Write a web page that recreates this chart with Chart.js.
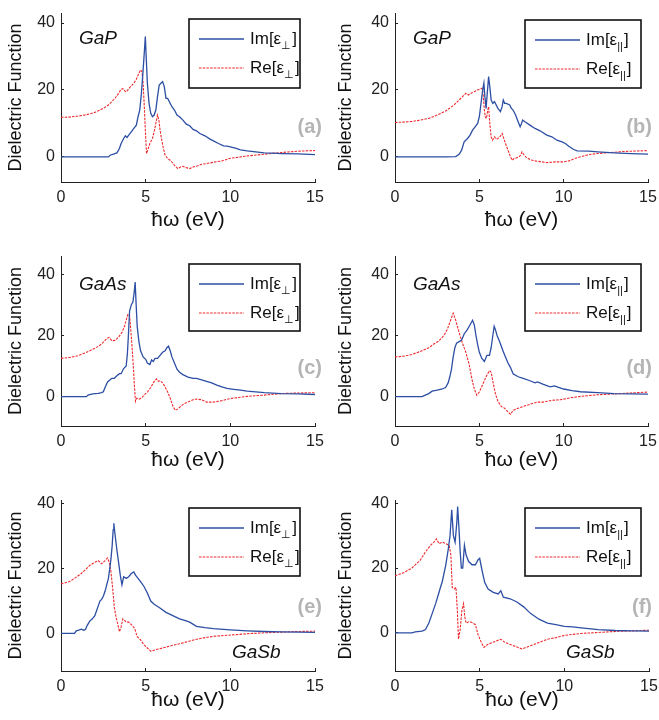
<!DOCTYPE html>
<html>
<head>
<meta charset="utf-8">
<script src="https://cdn.jsdelivr.net/npm/chart.js@4"></script>
<style>
body { margin: 0; background: #fff; }
#wrap { position: relative; width: 659px; height: 720px; }
#wrap canvas { position: absolute; }
</style>
</head>
<body>
<div id="wrap"></div>
<script>
// Axis ticks and ranges
const xTicks = [0, 5, 10, 15];
const yTicks = [0, 20, 40];
const yMin = [-7.5, -7.5, -9.6, -9.6, -11.6, -11.8];
const yMax = [43, 43, 46, 46, 41.2, 41];

const panelLetters = ['(a)', '(b)', '(c)', '(d)', '(e)', '(f)'];
const materials = ['GaP', 'GaP', 'GaAs', 'GaAs', 'GaSb', 'GaSb'];
const components = ['⊥', '||', '⊥', '||', '⊥', '||'];

// Series, [energy (eV), value]
const gapImPerp = [[0,0],[1,0],[2,0],[2.8,0],[2.9,0.5],[3.1,0.8],[3.3,1.2],[3.45,2.5],[3.55,4],[3.7,5.5],[3.8,6.3],[3.9,5.8],[4.0,6.5],[4.15,7.5],[4.3,8.5],[4.45,9.5],[4.55,12],[4.65,14],[4.75,19],[4.85,26],[4.93,32],[4.98,36],[5.03,30],[5.1,22],[5.2,16],[5.3,13],[5.4,12],[5.5,12.5],[5.6,14],[5.7,18],[5.8,21.5],[5.9,22],[6.0,22.5],[6.1,21],[6.2,17.5],[6.3,17.5],[6.4,16.5],[6.55,15],[6.7,14],[6.85,12.5],[7.0,12],[7.2,11],[7.4,9.8],[7.6,9.3],[7.8,8.2],[8.0,7.8],[8.2,7],[8.5,6.3],[8.8,5.3],[9.0,4.8],[9.3,4],[9.6,3.3],[9.8,3.2],[10.0,3],[10.3,2.6],[10.6,2.1],[11.0,1.8],[11.5,1.5],[12,1.2],[12.5,1.1],[13,1.0],[14,0.9],[15,0.7]];
const gapRePerp = [[0,11.8],[0.5,11.9],[1,12.2],[1.5,12.6],[2,13.3],[2.5,14.5],[2.8,15.5],[3.0,16.5],[3.2,17.6],[3.4,19],[3.55,20.2],[3.65,20.4],[3.75,19.8],[3.85,19.4],[3.95,20],[4.1,21],[4.3,22],[4.45,23.2],[4.6,25],[4.7,26],[4.78,25.5],[4.85,22],[4.92,15],[4.98,8],[5.05,1],[5.12,2],[5.25,4],[5.4,5.5],[5.5,7.5],[5.6,10],[5.7,12.5],[5.78,11],[5.85,8],[5.95,5],[6.05,2.5],[6.15,0.5],[6.3,-0.5],[6.5,-1.2],[6.7,-2.5],[6.9,-3.5],[7.05,-3],[7.2,-2.8],[7.4,-3.2],[7.6,-3.5],[7.8,-3],[8.0,-2.8],[8.3,-2.2],[8.6,-2],[9.0,-1.6],[9.5,-1.2],[10,-0.4],[10.5,-0.1],[11,0.3],[12,0.8],[13,1.3],[14,1.7],[15,1.9]];
const gapImPar = [[0,0],[1,0],[2,0],[3,0],[3.6,0.1],[3.8,0.8],[3.95,2],[4.1,4.5],[4.3,5.5],[4.45,6.5],[4.6,8],[4.75,9],[4.9,10],[5.0,12],[5.1,16],[5.2,20],[5.27,22],[5.33,18],[5.4,14.5],[5.47,19],[5.55,24],[5.62,21],[5.7,17],[5.8,16],[5.9,16.5],[6.0,15.5],[6.1,14.5],[6.25,13.5],[6.35,15],[6.42,17],[6.5,16],[6.6,16],[6.8,15.5],[6.9,14.5],[7.0,14],[7.15,12.5],[7.3,10.5],[7.42,9],[7.5,10],[7.57,11],[7.7,10.5],[8.0,9.5],[8.3,8.5],[8.6,7.8],[9.0,6.5],[9.3,6],[9.6,5],[9.9,4.5],[10.1,4.0],[10.3,3.2],[10.6,2.2],[10.8,1.8],[11.5,1.7],[12,1.5],[13,1.2],[14,1.0],[15,0.8]];
const gapRePar = [[0,10.3],[0.5,10.4],[1,10.6],[1.5,11],[2,11.5],[2.5,12.5],[3,13.7],[3.5,15.5],[3.8,17],[4.0,18],[4.2,19],[4.35,18.5],[4.5,19],[4.7,19.5],[4.9,20],[5.05,20.3],[5.15,20.5],[5.22,19],[5.3,14],[5.35,12],[5.42,11.5],[5.5,14],[5.55,15],[5.62,10],[5.7,6],[5.78,5],[5.9,6],[6.0,5.3],[6.1,5.5],[6.25,6.2],[6.35,7],[6.45,5.5],[6.55,4],[6.7,2],[6.85,0],[6.95,-1],[7.05,-0.5],[7.2,-0.3],[7.35,0],[7.45,0.5],[7.53,1.5],[7.62,0.8],[7.75,0],[8.0,-0.8],[8.3,-1.2],[8.6,-1.4],[9.0,-1.7],[9.5,-1.5],[10,-1.5],[10.3,-1.2],[10.6,-0.6],[10.9,-0.1],[11.5,0.7],[12,1],[12.5,1.2],[13.5,1.6],[15,1.9]];
const gaasImPerp = [[0,0],[1,0],[1.5,0],[1.6,0.5],[1.8,0.8],[2.0,1.0],[2.2,1.1],[2.4,1.3],[2.5,1.6],[2.6,3],[2.75,4.8],[2.9,5.5],[3.0,6],[3.15,6],[3.3,6.8],[3.45,7.5],[3.55,7.5],[3.7,9.2],[3.85,10],[3.92,14],[3.98,20],[4.05,28],[4.15,30],[4.25,31],[4.32,34],[4.38,37.5],[4.43,31],[4.5,23],[4.6,18],[4.7,15],[4.85,13],[5.0,12.2],[5.1,11],[5.25,10.5],[5.35,12],[5.45,11.5],[5.55,12.5],[5.7,12.5],[5.85,13.5],[6.0,14.5],[6.15,15],[6.25,16],[6.35,16.5],[6.45,15],[6.55,13],[6.7,11],[6.85,9],[7.0,8],[7.2,7.2],[7.5,6.4],[7.8,6],[8.0,6],[8.3,5.5],[8.6,5],[8.9,4.5],[9.2,3.8],[9.5,3.2],[9.8,2.7],[10.2,2.4],[10.6,2.1],[11,1.8],[12,1.3],[13,1.0],[14,0.9],[15,0.7]];
const gaasRePerp = [[0,12.5],[0.5,12.8],[1,13.4],[1.5,14.5],[2,15.8],[2.3,16.8],[2.5,17.8],[2.7,19],[2.85,19.4],[3.0,18.3],[3.2,18.4],[3.4,19.5],[3.6,21],[3.75,23],[3.85,25],[3.95,27],[4.05,26.5],[4.12,22],[4.2,16],[4.27,10],[4.33,4],[4.4,-1.5],[4.47,-0.5],[4.6,-0.8],[4.75,-0.5],[4.9,0.5],[5.1,1.5],[5.3,3],[5.45,4.5],[5.55,5.3],[5.65,5.8],[5.75,5],[5.85,5.2],[6.0,4.5],[6.15,3.2],[6.3,1.5],[6.45,-0.5],[6.6,-3],[6.75,-4.5],[6.9,-4],[7.1,-3],[7.3,-2.2],[7.6,-1.5],[7.85,-0.9],[8.0,-0.8],[8.3,-1],[8.6,-1.8],[9.0,-1.8],[9.5,-1.3],[10,-0.6],[11,0.1],[12,0.5],[13,1.0],[14,1.2],[15,1.3]];
const gaasImPar = [[0,0],[1,0],[1.6,0],[1.8,0.5],[2.0,1.0],[2.2,1.8],[2.5,2.1],[2.8,2.5],[3.0,3],[3.15,4.5],[3.25,6.5],[3.35,9],[3.45,13],[3.55,16],[3.65,17.5],[3.8,18],[3.95,18.5],[4.1,20.5],[4.3,22],[4.45,23.5],[4.6,25],[4.7,23.5],[4.8,20],[4.9,17],[5.0,14.5],[5.15,12.5],[5.3,11.5],[5.45,13.5],[5.6,13.5],[5.7,16],[5.8,20],[5.88,23],[5.95,22],[6.05,20],[6.2,18],[6.4,15],[6.55,13],[6.7,11],[6.85,9.5],[7.0,7.5],[7.3,6.5],[7.6,6],[8.0,5.2],[8.3,4.5],[8.45,4.8],[8.8,4],[9.2,3.2],[9.45,3.5],[9.7,3],[10,2.5],[10.5,2.0],[11,1.6],[12,1.3],[13,1.0],[14,0.9],[15,0.8]];
const gaasRePar = [[0,13],[0.5,13.2],[1,13.8],[1.5,14.8],[2.0,16],[2.3,17.2],[2.6,18.2],[2.9,20],[3.1,22],[3.3,25],[3.45,27.3],[3.6,25],[3.8,21],[4.0,17.5],[4.2,14.5],[4.4,10.5],[4.55,6],[4.7,2.5],[4.85,0.5],[5.0,1.5],[5.2,4],[5.4,6.5],[5.6,8.5],[5.7,8],[5.8,5],[5.95,1],[6.1,-1.5],[6.3,-3.2],[6.5,-3.8],[6.7,-5],[6.85,-5.8],[7.0,-4.5],[7.3,-3.8],[7.6,-3.2],[8.0,-2.5],[8.4,-1.8],[8.8,-1.8],[9.3,-1.2],[9.8,-1.0],[10.5,-0.3],[11,0.1],[12,0.6],[13,0.9],[14,1.2],[15,1.5]];
const gasbImPerp = [[0,0],[0.8,0],[0.9,0.8],[1.05,1],[1.2,1.3],[1.35,1],[1.45,1.3],[1.55,2.5],[1.7,3.8],[1.85,4.5],[2.0,5.5],[2.1,7],[2.2,8.5],[2.3,10],[2.4,10.5],[2.5,11.5],[2.6,13],[2.7,15],[2.8,17],[2.88,20],[2.95,23],[3.02,27],[3.08,32],[3.12,34],[3.18,31],[3.25,28],[3.32,25],[3.4,22],[3.5,18],[3.6,15],[3.7,17.5],[3.85,17],[4.0,17.5],[4.15,18.5],[4.3,19],[4.4,18],[4.55,17],[4.7,16],[4.9,14.5],[5.1,12.5],[5.3,10],[5.5,9],[5.8,8],[6.2,6.5],[6.6,5.5],[7.0,4.5],[7.3,4],[7.6,3.5],[8.0,2.2],[8.5,1.8],[9,1.5],[10,1.1],[11,0.8],[12,0.6],[13,0.5],[15,0.3]];
const gasbRePerp = [[0,15.3],[0.5,16],[0.8,17],[1.2,18.5],[1.5,20],[1.7,21],[2.0,22],[2.2,22.5],[2.4,21.5],[2.6,22.5],[2.75,23.3],[2.85,22],[2.95,19],[3.05,14],[3.15,8],[3.25,5],[3.35,3],[3.45,0.5],[3.55,2],[3.65,4.5],[3.75,4],[3.85,3.5],[4.0,3.5],[4.2,2.5],[4.35,1.5],[4.5,-1],[4.7,-2],[4.9,-3.5],[5.1,-4.5],[5.3,-5.5],[5.6,-5],[6,-4.5],[6.5,-3.8],[7,-3.2],[7.5,-2.5],[8,-1.8],[8.5,-1.3],[9,-0.9],[10,-0.5],[11,-0.1],[12,0.2],[13,0.4],[14,0.6],[15,0.7]];
const gasbImPar = [[0,0],[1.0,0],[1.2,0.3],[1.6,0.5],[1.8,1],[2.0,3],[2.2,6],[2.4,9],[2.6,12.5],[2.8,16],[3.0,21],[3.15,26],[3.25,30],[3.35,38],[3.45,30],[3.55,28],[3.65,34],[3.7,39],[3.78,32],[3.85,25],[3.92,20],[4.0,20],[4.1,27],[4.2,24],[4.35,22],[4.55,21],[4.75,21],[4.9,22.5],[5.0,23],[5.15,19],[5.3,15.5],[5.5,13.5],[5.8,12.5],[6.1,12],[6.25,13],[6.4,11],[6.8,10.5],[7.2,9.5],[7.6,8],[8,6],[8.5,4.2],[9,3],[9.5,2.5],[10,2],[10.5,1.8],[11,1.5],[12,1.0],[13,0.7],[14,0.6],[15,0.5]];
const gasbRePar = [[0,17.6],[0.5,18.5],[1,20],[1.5,22.5],[1.8,25],[2.1,27],[2.3,28],[2.45,29],[2.6,27.5],[2.8,28],[3.0,27.5],[3.2,27],[3.3,24],[3.38,14],[3.5,13.5],[3.6,14],[3.68,7],[3.75,-2],[3.85,1],[3.95,7],[4.05,9],[4.12,5],[4.2,3],[4.4,3.5],[4.6,3],[4.75,2.5],[4.9,-0.5],[5.1,-3],[5.25,-4.5],[5.5,-3.5],[6.0,-2.5],[6.25,-2],[6.5,-3],[7.0,-4],[7.5,-5],[8,-4],[8.5,-3],[9,-2],[9.5,-1.5],[10,-0.8],[11,-0.2],[12,0.1],[13,0.4],[14,0.6],[15,0.8]];

const imSeries = [gapImPerp, gapImPar, gaasImPerp, gaasImPar, gasbImPerp, gasbImPar];
const reSeries = [gapRePerp, gapRePar, gaasRePerp, gaasRePar, gasbRePerp, gasbRePar];

// Where each panel sits on the page (canvas coords, chart area = [left, top, right, bottom])
const layouts = [
    {x: 0,   y: 0,   w: 330, area: [61, 13, 315, 182], legend: [189, 19, 111, 69], mat: [79, 39], letter: [322, 127]},
    {x: 330, y: 0,   w: 329, area: [65, 13, 318, 182], legend: [195, 20, 116, 68], mat: [83, 39], letter: [322, 127]},
    {x: 0,   y: 240, w: 330, area: [61, 16, 315, 186], legend: [189, 24, 111, 67], mat: [79, 45], letter: [322, 128]},
    {x: 330, y: 240, w: 329, area: [65, 16, 318, 186], legend: [195, 24, 116, 67], mat: [83, 45], letter: [322, 128]},
    {x: 0,   y: 480, w: 330, area: [61, 20, 315, 191], legend: [189, 28, 111, 68], mat: [232, 173], letter: [322, 127]},
    {x: 330, y: 480, w: 329, area: [65, 20, 319, 191], legend: [195, 28, 116, 68], mat: [236, 173], letter: [322, 127]}
];
const panelH = 240;
const FONT = '"Liberation Sans", Arial, Helvetica, sans-serif';

// Draws legend box, material name and panel letter inside the plot
const decorPlugin = {
    id: 'decor',
    afterDatasetsDraw(chart, args, opts) {
        const ctx = chart.ctx;
        ctx.save();
        ctx.textBaseline = 'middle';

        ctx.font = 'italic 19px ' + FONT;
        ctx.fillStyle = '#111';
        ctx.textAlign = 'left';
        ctx.fillText(opts.material, opts.mat[0], opts.mat[1]);

        ctx.font = 'bold 20px ' + FONT;
        ctx.fillStyle = '#b5b5b5';
        ctx.textAlign = 'right';
        ctx.fillText(opts.letter, opts.letterPos[0], opts.letterPos[1]);

        const [bx, by, bw, bh] = opts.legend;
        ctx.fillStyle = '#fff';
        ctx.fillRect(bx, by, bw, bh);
        ctx.strokeStyle = '#111';
        ctx.lineWidth = 1.6;
        ctx.strokeRect(bx, by, bw, bh);

        chart.data.datasets.forEach((ds, i) => {
            const ly = by + 20 + i * 29;
            ctx.strokeStyle = ds.borderColor;
            ctx.lineWidth = ds.borderWidth;
            ctx.setLineDash(ds.borderDash || []);
            ctx.beginPath();
            ctx.moveTo(bx + 10, ly);
            ctx.lineTo(bx + 55, ly);
            ctx.stroke();
            ctx.setLineDash([]);

            ctx.fillStyle = '#111';
            ctx.textAlign = 'left';
            ctx.font = '17px ' + FONT;
            let tx = bx + 61;
            const head = ds.label + '[ε';
            ctx.fillText(head, tx, ly);
            tx += ctx.measureText(head).width;
            ctx.font = '11px ' + FONT;
            ctx.fillText(opts.sub, tx, ly + 7);
            tx += ctx.measureText(opts.sub).width + 1;
            ctx.font = '17px ' + FONT;
            ctx.fillText(']', tx, ly);
        });
        ctx.restore();
    }
};

const wrap = document.getElementById('wrap');

layouts.forEach((L, i) => {
    const canvas = document.createElement('canvas');
    canvas.width = L.w;
    canvas.height = panelH;
    canvas.style.left = L.x + 'px';
    canvas.style.top = L.y + 'px';
    canvas.style.width = L.w + 'px';
    canvas.style.height = panelH + 'px';
    wrap.appendChild(canvas);

    new Chart(canvas.getContext('2d'), {
        type: 'line',
        data: {
            datasets: [
                {
                    label: 'Im',
                    data: imSeries[i],
                    borderColor: '#2c4ea3',
                    borderWidth: 1.3,
                    pointRadius: 0,
                    tension: 0
                },
                {
                    label: 'Re',
                    data: reSeries[i],
                    borderColor: '#ee2a2e',
                    borderWidth: 1.1,
                    borderDash: [2.5, 1.2],
                    pointRadius: 0,
                    tension: 0
                }
            ]
        },
        options: {
            responsive: false,
            animation: false,
            layout: {
                padding: {top: L.area[1], right: L.w - L.area[2], left: 0, bottom: 0}
            },
            scales: {
                x: {
                    type: 'linear',
                    min: 0,
                    max: 15,
                    afterBuildTicks: s => { s.ticks = xTicks.map(v => ({value: v})); },
                    // fix the axis box so the plot area lands where the reference has it
                    afterFit: s => {
                        s.height = panelH - L.area[3];
                        s.paddingLeft = 0;
                        s.paddingRight = 0;
                    },
                    border: {color: '#222', width: 1},
                    grid: {drawOnChartArea: false, tickLength: -3, color: '#222'},
                    ticks: {font: {size: 16, family: FONT}, color: '#222', padding: 9, maxRotation: 0},
                    title: {
                        display: true,
                        text: 'ħω (eV)',
                        font: {size: 21, family: FONT},
                        color: '#111',
                        padding: {top: 0, bottom: 7}
                    }
                },
                y: {
                    min: yMin[i],
                    max: yMax[i],
                    afterBuildTicks: s => { s.ticks = yTicks.map(v => ({value: v})); },
                    afterFit: s => {
                        s.width = L.area[0];
                        s.paddingTop = 0;
                        s.paddingBottom = 0;
                    },
                    border: {color: '#222', width: 1},
                    grid: {drawOnChartArea: false, tickLength: -3, color: '#222'},
                    ticks: {font: {size: 16, family: FONT}, color: '#222', padding: 9},
                    title: {
                        display: true,
                        text: 'Dielectric Function',
                        font: {size: 18, family: FONT},
                        color: '#111',
                        padding: {top: 5, bottom: 0}
                    }
                }
            },
            plugins: {
                legend: {display: false},
                tooltip: {enabled: false},
                decor: {
                    material: materials[i],
                    letter: panelLetters[i],
                    sub: components[i],
                    legend: L.legend,
                    mat: L.mat,
                    letterPos: L.letter
                }
            }
        },
        plugins: [decorPlugin]
    });
});
</script>
</body>
</html>
